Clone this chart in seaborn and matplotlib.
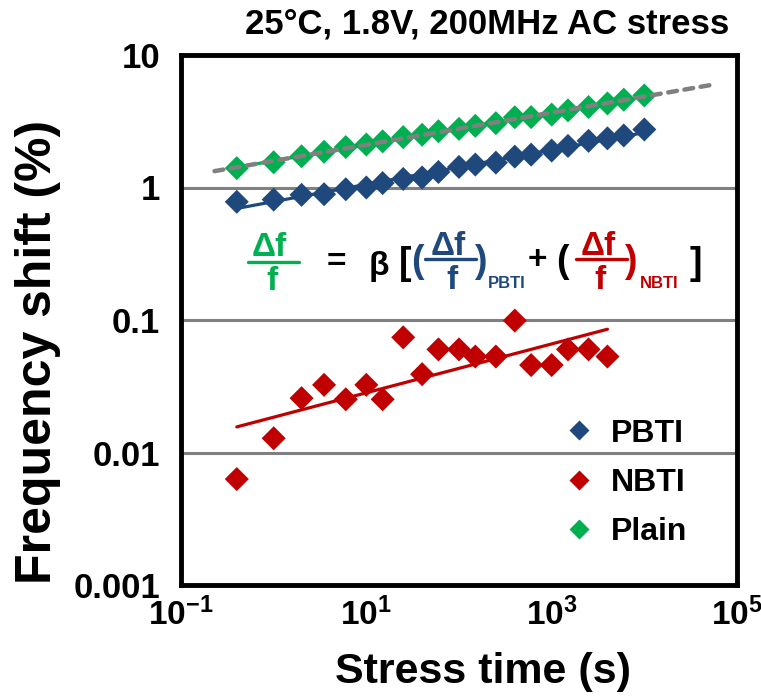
import numpy as np
import pandas as pd
import seaborn as sns
import matplotlib.pyplot as plt
from matplotlib.lines import Line2D
from matplotlib.ticker import LogLocator, FuncFormatter, NullFormatter

# stress time (s) and frequency shift (%)
time_s = [0.4, 1, 2, 3.5, 6, 10, 15, 25, 40, 60, 100, 150, 250, 400, 600,
          1000, 1500, 2500, 4000, 6000, 10000]
pbti = [0.78, 0.81, 0.88, 0.89, 0.97, 1.00, 1.08, 1.16, 1.19, 1.31, 1.43,
        1.49, 1.54, 1.71, 1.77, 1.90, 2.06, 2.25, 2.35, 2.47, 2.74]
nbti = [0.0063, 0.0128, 0.0257, 0.0324, 0.0252, 0.0324, 0.0252, 0.074,
        0.039, 0.060, 0.060, 0.053, 0.053, 0.099, 0.0457, 0.0457, 0.060,
        0.060, 0.053]
plain = [1.40, 1.55, 1.72, 1.86, 2.02, 2.11, 2.23, 2.40, 2.50, 2.66, 2.77,
         2.92, 3.06, 3.39, 3.40, 3.55, 3.82, 4.05, 4.31, 4.60, 4.95]
series = ['PBTI', 'NBTI', 'Plain']
colors = {'PBTI': '#1F497D', 'NBTI': '#C00000', 'Plain': '#00B050'}
extend_range = (0.23, 5.4e4)

values = {'PBTI': pbti, 'NBTI': nbti, 'Plain': plain}
df = pd.concat([pd.DataFrame({'t': time_s[:len(v)], 'shift': v, 'series': k})
                for k, v in values.items()], ignore_index=True)


def power_fit(t, y, t_new):
    p = np.polyfit(np.log10(t), np.log10(y), 1)
    return 10 ** np.polyval(p, np.log10(t_new))


fit_rows = []
for k, v in values.items():
    tt = np.array(time_s[:len(v)])
    tn = np.geomspace(tt[0], tt[-1], 40)
    fit_rows.append(pd.DataFrame({'t': tn, 'shift': power_fit(tt, v, tn), 'series': k}))
fit_df = pd.concat(fit_rows, ignore_index=True)
t_ext = np.geomspace(*extend_range, 40)
ext_df = pd.DataFrame({'t': t_ext, 'shift': power_fit(time_s, plain, t_ext)})

sns.set_style('white')
plt.rcParams['font.family'] = ['Liberation Sans', 'DejaVu Sans']
plt.rcParams['mathtext.fontset'] = 'custom'
plt.rcParams['mathtext.bf'] = 'Liberation Sans:bold'
plt.rcParams['mathtext.rm'] = 'Liberation Sans:bold'
for key in ['text.color', 'axes.labelcolor', 'xtick.color', 'ytick.color']:
    plt.rcParams[key] = 'black'

W, H = 761, 697
fig = plt.figure(figsize=(W / 100, H / 100), dpi=100)
ax = fig.add_axes([181 / W, 1 - 585 / H, (737 - 181) / W, (585 - 55) / H])

ax.grid(True, axis='y', which='major', color='#808080', lw=2.2, zorder=0)
sns.lineplot(data=fit_df, x='t', y='shift', hue='series', hue_order=series,
             palette=colors, lw=2.3, legend=False, ax=ax, zorder=2)
sns.scatterplot(data=df, x='t', y='shift', hue='series', hue_order=series,
                palette=colors, marker='D', s=150, edgecolor='none', ax=ax, zorder=3)
sns.lineplot(data=ext_df, x='t', y='shift', color='#808080', lw=3.2,
             ls=(0, (2.0, 1.7)), dash_capstyle='round', ax=ax, zorder=4)

ax.set(xscale='log', yscale='log', xlim=(0.1, 1e5), ylim=(0.001, 10))
ax.xaxis.set_major_locator(LogLocator(base=10, numticks=20))
ax.xaxis.set_minor_locator(LogLocator(base=10, subs=np.arange(2, 10), numticks=20))
ax.xaxis.set_minor_formatter(NullFormatter())
ax.xaxis.set_major_formatter(FuncFormatter(
    lambda v, _: r'$\mathbf{10^{%d}}$' % round(np.log10(v)) if round(np.log10(v)) % 2 else ''))
ax.yaxis.set_major_locator(LogLocator(base=10, numticks=20))
ax.yaxis.set_minor_locator(LogLocator(base=10, subs=np.arange(2, 10), numticks=20))
ax.yaxis.set_minor_formatter(NullFormatter())
ax.yaxis.set_major_formatter(FuncFormatter(lambda v, _: f'{v:g}'))
ax.tick_params(which='both', direction='in', top=False, right=False, color='black')
ax.tick_params(which='major', length=8, width=2)
ax.tick_params(which='minor', length=5, width=1.5)
ax.tick_params(axis='x', which='major', pad=9)
ax.tick_params(axis='y', which='major', pad=15)
for lab in ax.get_xticklabels():
    lab.set_fontsize(24)
for lab in ax.get_yticklabels():
    lab.set_fontweight('bold')
    lab.set_fontsize(25)
for sp in ax.spines.values():
    sp.set_color('black')
    sp.set_linewidth(3.5)

ax.set_xlabel('')
ax.set_ylabel('')
fig.text(483 / W, 1 - 672 / H, 'Stress time (s)', ha='center', va='center',
         fontsize=31, fontweight='bold')
fig.text(38 / W, 1 - 352 / H, 'Frequency shift (%)', ha='center', va='center',
         rotation=90, fontsize=36, fontweight='bold')

sns.move_legend(ax, 'center left', bbox_to_anchor=(0.69, 0.193), frameon=False,
                title=None, prop={'weight': 'bold', 'size': 23},
                handlelength=0.9, handletextpad=0.55, labelspacing=0.6,
                borderpad=0, borderaxespad=0, markerscale=0.8)

fig.text(487 / W, 1 - 24 / H, '25°C, 1.8V, 200MHz AC stress',
         ha='center', va='center', fontsize=25, fontweight='bold')


def ftext(x, y, s, color='black', size=24):
    fig.text(x / W, 1 - y / H, s, color=color, fontsize=size,
             fontweight='bold', ha='center', va='center')


def fbar(x0, x1, y, color):
    fig.add_artist(Line2D([x0 / W, x1 / W], [1 - y / H] * 2,
                          transform=fig.transFigure, color=color, lw=2.4))


blue, red, green = colors['PBTI'], colors['NBTI'], colors['Plain']
ftext(269, 248, 'Δf', green)
fbar(248, 299, 262, green)
ftext(272, 282, 'f', green)
ftext(336, 262, '=')
ftext(379, 266, 'β')
ftext(405, 264, '[', size=27)
ftext(417, 262, '(', blue, size=27)
ftext(448, 246, 'Δf', blue)
fbar(425, 476, 259, blue)
ftext(452, 281, 'f', blue)
ftext(480, 262, ')', blue, size=27)
ftext(507, 283, 'PBTI', blue, size=12)
ftext(537, 260, '+')
ftext(562, 262, '(', size=27)
ftext(598, 246, 'Δf', red)
fbar(576, 627, 259, red)
ftext(600, 281, 'f', red)
ftext(630, 262, ')', red, size=27)
ftext(659, 283, 'NBTI', red, size=12)
ftext(696, 264, ']', size=27)

fig.savefig('out.png', dpi=100)
